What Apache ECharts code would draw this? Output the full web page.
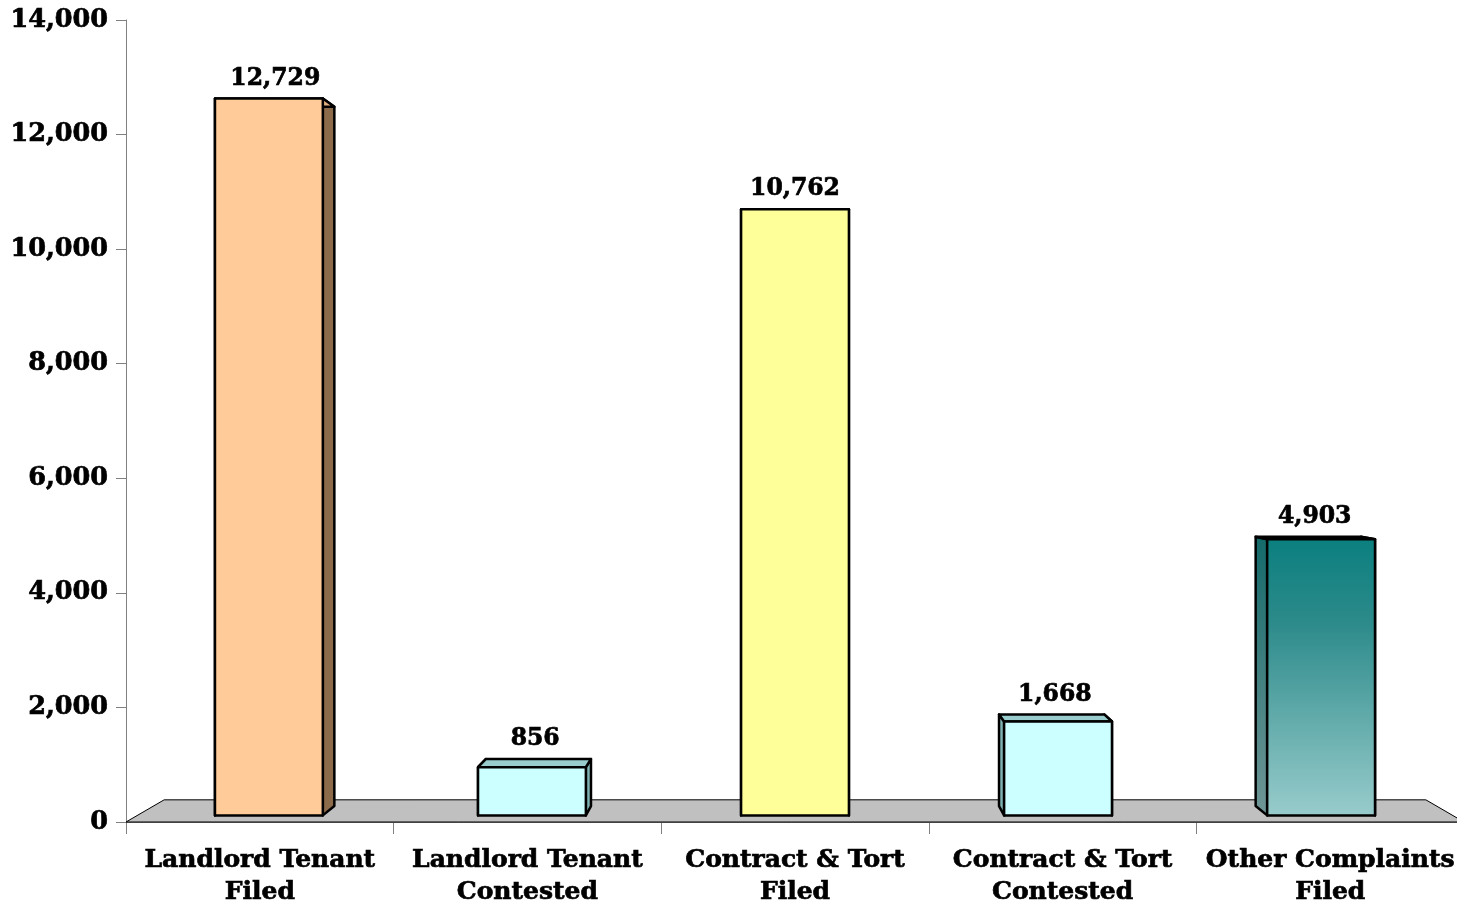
<!DOCTYPE html>
<html>
<head>
<meta charset="utf-8">
<script src="https://cdn.jsdelivr.net/npm/echarts@6/dist/echarts.min.js"></script>
<style>
html,body{margin:0;padding:0;background:#fff;}
#chart{width:1457px;height:905px;}
</style>
</head>
<body>
<div id="chart"></div>
<script>
const categories = ['Landlord Tenant\nFiled', 'Landlord Tenant\nContested', 'Contract & Tort\nFiled', 'Contract & Tort\nContested', 'Other Complaints\nFiled'];
const values = [12729, 856, 10762, 1668, 4903];
const yMin = 0, yMax = 14000, yInterval = 2000;

const frontColors = [
  '#FFCC99', '#CCFFFF', '#FFFF99', '#CCFFFF',
  {type:'linear', x:0, y:0, x2:0, y2:1, colorStops:[{offset:0,color:'#0B7F7F'},{offset:0.3,color:'#2C8A8A'},{offset:1,color:'#99CCCC'}]}
];
const sideColors = [
  '#8B6B4A', '#80B3B3', '#E6E680', '#80B3B3',
  {type:'linear', x:0, y:0, x2:0, y2:1, colorStops:[{offset:0,color:'#146A6A'},{offset:1,color:'#709696'}]}
];
const topColors = ['#E0B080', '#99CCCC', '#E6E680', '#99CCCC', '#0D5A5A'];

const FAMILY = '"DejaVu Serif", serif';
const VALUE_FONT = 'bold 23.5px ' + FAMILY;
const KF = 0.983, KB = 0.959, KFLOOR = 0.943, VPY = 0.515;

function persp(cs) {
  const vx = cs.x + cs.width / 2, vy = cs.y + cs.height * VPY;
  return (x, y, k) => [vx + k * (x - vx), vy + k * (y - vy)];
}

function renderBar(params, api) {
  const i = api.value(0), v = api.value(1);
  const P = persp(params.coordSys);
  const band = api.size([1, 0])[0];
  const t = api.coord([i, v]), b0 = api.coord([i, 0]);
  const hw = band * 0.41 / 2;
  const xl = t[0] - hw, xr = t[0] + hw;
  const f = {tl:P(xl,t[1],KF), tr:P(xr,t[1],KF), bl:P(xl,b0[1],KF), br:P(xr,b0[1],KF)};
  const k = {tl:P(xl,t[1],KB), tr:P(xr,t[1],KB), bl:P(xl,b0[1],KB), br:P(xr,b0[1],KB)};
  const st = {stroke:'#000', lineWidth:2.5, lineJoin:'round'};
  const idx = params.dataIndex;
  const cx = (f.tl[0] + f.tr[0] + k.tl[0] + k.tr[0]) / 4;
  const ty = Math.min(f.tl[1], k.tl[1]) - 8;
  return {
    type:'group',
    children:[
      {type:'polygon', shape:{points:[f.tr, f.br, k.br, k.tr]}, style:Object.assign({fill:sideColors[idx]}, st)},
      {type:'polygon', shape:{points:[f.tl, f.bl, k.bl, k.tl]}, style:Object.assign({fill:sideColors[idx]}, st)},
      {type:'polygon', shape:{points:[f.tl, f.tr, k.tr, k.tl]}, style:Object.assign({fill:topColors[idx]}, st)},
      {type:'polygon', shape:{points:[f.tl, f.tr, f.br, f.bl]}, style:Object.assign({fill:frontColors[idx]}, st)},
      {type:'text', style:{text:values[idx].toLocaleString('en-US'), x:cx, y:ty, font:VALUE_FONT, fill:'#000',
        stroke:'#000', lineWidth:0.7, align:'center', verticalAlign:'bottom'}}
    ]
  };
}

function renderFloor(params, api) {
  const cs = params.coordSys;
  const P = persp(cs);
  const y0 = api.coord([0, 0])[1];
  const xL = cs.x, xR = cs.x + cs.width;
  return {
    type:'polygon',
    shape:{points:[P(xL,y0,1), P(xR,y0,1), P(xR,y0,KFLOOR), P(xL,y0,KFLOOR)]},
    style:{fill:'#C0C0C0', stroke:'#000', lineWidth:1}
  };
}

const chart = echarts.init(document.getElementById('chart'));
chart.setOption({
  animation:false,
  backgroundColor:'#fff',
  grid:{left:126, top:20, width:1338, height:802, containLabel:false, outerBoundsMode:'none'},
  xAxis:{
    type:'category', data:categories, boundaryGap:true,
    axisLine:{lineStyle:{color:'#808080', width:1}},
    axisTick:{show:true, length:12, interval:0, lineStyle:{color:'#808080'}},
    axisLabel:{interval:0, margin:22, fontSize:25, fontWeight:'bold', fontFamily:FAMILY, color:'#000', lineHeight:32,
      textBorderColor:'#000', textBorderWidth:0.7}
  },
  yAxis:{
    type:'value', min:yMin, max:yMax, interval:yInterval,
    axisLine:{show:true, lineStyle:{color:'#808080', width:1}},
    axisTick:{show:true, length:10, lineStyle:{color:'#808080'}},
    splitLine:{show:false},
    axisLabel:{margin:18, fontSize:25.5, fontWeight:'bold', fontFamily:FAMILY, color:'#000',
      textBorderColor:'#000', textBorderWidth:0.7,
      formatter:v => v.toLocaleString('en-US')}
  },
  series:[
    {type:'custom', name:'floor', renderItem:renderFloor, data:[[0,0]], clip:false, z:1, silent:true},
    {type:'custom', name:'bars', renderItem:renderBar, encode:{x:0, y:1}, data:values.map((v,i)=>[i,v]), clip:false, z:2}
  ]
});
</script>
</body>
</html>
